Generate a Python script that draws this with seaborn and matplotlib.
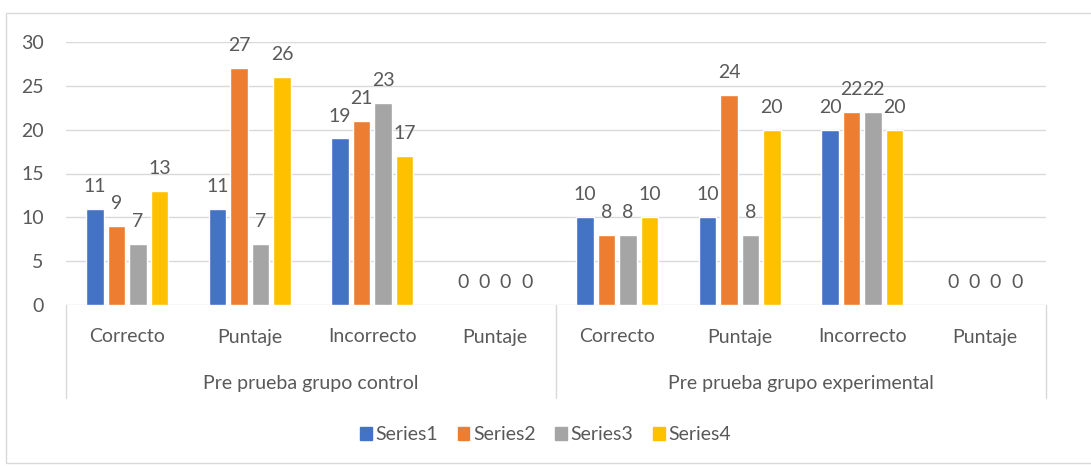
import seaborn as sns
import pandas as pd
import matplotlib.pyplot as plt
from matplotlib.patches import Rectangle
import matplotlib.transforms as mtransforms

# chart data
groups = ['Pre prueba grupo control', 'Pre prueba grupo experimental']
categories = ['Correcto', 'Puntaje', 'Incorrecto', 'Puntaje']
series_names = ['Series1', 'Series2', 'Series3', 'Series4']
series1 = [11, 11, 19, 0, 10, 10, 20, 0]
series2 = [9, 27, 21, 0, 8, 24, 22, 0]
series3 = [7, 7, 23, 0, 8, 8, 22, 0]
series4 = [13, 26, 17, 0, 10, 20, 20, 0]

colors = ['#4472C4', '#ED7D31', '#A5A5A5', '#FFC000']
text_color = '#595959'
line_color = '#D9D9D9'


def build_frame():
    rows = []
    for name, vals in zip(series_names, [series1, series2, series3, series4]):
        for i, v in enumerate(vals):
            rows.append({'slot': i, 'series': name, 'value': v})
    return pd.DataFrame(rows)


def main():
    df = build_frame()

    sns.set_theme(style='white')
    plt.rcParams['font.family'] = ['Lato', 'DejaVu Sans']
    fs = 14

    fig = plt.figure(figsize=(10.91, 4.66), dpi=100)
    ax = fig.add_axes([66 / 1091, 1 - 305 / 466, 980 / 1091, 263 / 466])

    # outer chart border
    fig.patches.append(Rectangle((6 / 1091, 1 - 463 / 466), 1.2, 450 / 466,
                                 transform=fig.transFigure, fill=False,
                                 edgecolor=line_color, linewidth=1.0))

    sns.barplot(data=df, x='slot', y='value', hue='series', palette=colors,
                width=0.7, gap=0.18, ax=ax, legend=False, errorbar=None,
                saturation=1)

    for cont in ax.containers:
        ax.bar_label(cont, fontsize=fs, color=text_color, padding=10)

    ax.set_ylim(0, 30)
    ax.set_xlim(-0.5, 7.5)
    ax.set_yticks(range(0, 31, 5))
    ax.yaxis.grid(True, color=line_color, linewidth=1)
    ax.set_axisbelow(True)
    for s in ax.spines.values():
        s.set_visible(False)
    ax.tick_params(axis='y', labelsize=fs, labelcolor=text_color, length=0, pad=16)
    ax.set_xticks([])
    ax.set_xlabel('')
    ax.set_ylabel('')

    # multi level category axis
    trans = mtransforms.blended_transform_factory(ax.transData, ax.transAxes)
    depth = -93 / 263
    for xv in [-0.5, 3.5, 7.5]:
        ax.plot([xv, xv], [0, depth], color=line_color, linewidth=1,
                transform=trans, clip_on=False)
    for g in range(len(groups)):
        for i, c in enumerate(categories):
            ax.text(g * 4 + i, -32 / 263, c, transform=trans, ha='center',
                    va='center', fontsize=fs, color=text_color)
        ax.text(g * 4 + 1.5, -78 / 263, groups[g], transform=trans,
                ha='center', va='center', fontsize=fs, color=text_color)

    handles = [Rectangle((0, 0), 1, 1, color=c) for c in colors]
    fig.legend(handles, series_names, loc='center', bbox_to_anchor=(0.5, 1 - 435 / 466),
               ncol=4, frameon=False, fontsize=fs, handlelength=0.6,
               handleheight=0.6, handletextpad=0.2, columnspacing=1.0,
               labelcolor=text_color)

    fig.savefig('out.png', dpi=100)


if __name__ == '__main__':
    main()
